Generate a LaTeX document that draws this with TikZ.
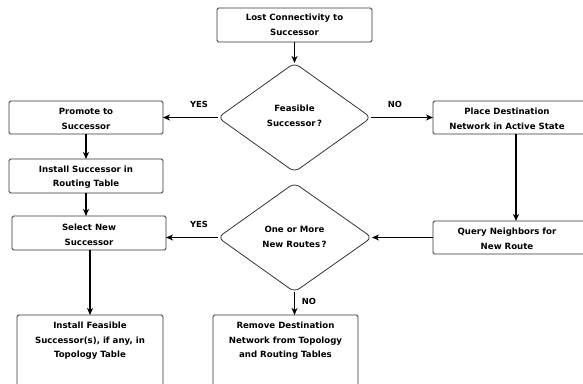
\documentclass[tikz,border=0pt]{standalone}
\usepackage{fontspec}
\setmainfont{DejaVu Sans}
\usetikzlibrary{arrows.meta}
\begin{document}
\begin{tikzpicture}[x=1pt,y=-1pt,
  box/.style={draw=black!80,line width=0.8pt,rounded corners=1.5pt},
  txt/.style={font=\bfseries\fontsize{8.6}{14.6}\selectfont,align=center,inner sep=0pt},
  flow/.style={line width=1.3pt,-{Stealth[length=7pt,width=6pt,inset=2pt]}},
  lbl/.style={font=\bfseries\fontsize{8.4}{9}\selectfont,inner sep=0pt}]
\useasboundingbox (0,0) rectangle (583,383);
\clip (0,0) rectangle (583,383);

% process boxes
\draw[box] (217,8) rectangle (372,42);
\node[txt] (lost) at (294.5,24.5) {Lost Connectivity to\\Successor};
\coordinate (lostB) at (294.5,42);

\draw[box] (9,101) rectangle (163,134);
\node[txt] (prom) at (86,119) {Promote to\\Successor};

\draw[box] (9,159) rectangle (163,193);
\node[txt] (inst) at (86,177) {Install Successor in\\Routing Table};

\draw[box] (12,216) rectangle (166,250);
\node[txt] (sel) at (89,234.5) {Select New\\Successor};

\draw[box] (433,101) rectangle (590,134);
\node[txt] (place) at (507,118.5) {Place Destination\\Network in Active State};

\draw[box] (433,221) rectangle (590,254);
\node[txt] (query) at (507,239) {Query Neighbors for\\New Route};

\draw[box] (17,315) rectangle (163,400);
\node[txt] (feas) at (90,341) {Install Feasible\\Successor(s), if any, in\\Topology Table};

\draw[box] (213,315) rectangle (358,400);
\node[txt] (rem) at (285.5,341) {Remove Destination\\Network from Topology\\and Routing Tables};

% decision diamonds
\draw[box,rounded corners=6pt] (294.5,63) -- (371,117.5) -- (294.5,172) -- (218,117.5) -- cycle;
\node[txt] (d1) at (294.5,115.5) {Feasible\\Successor\,?};
\coordinate (d1T) at (294.5,63);
\coordinate (d1L) at (218,117.5);
\coordinate (d1R) at (371,117.5);

\draw[box,rounded corners=6pt] (294.5,183) -- (372,237.5) -- (294.5,292) -- (218,237.5) -- cycle;
\node[txt] (d2) at (294.5,237) {One or More\\New Routes\,?};
\coordinate (d2L) at (218,237.5);
\coordinate (d2R) at (372,237.5);
\coordinate (d2B) at (294.5,292);

% connectors
\draw[flow] (lostB) -- (d1T);
\draw[flow] (d1L) -- (163,117.5);
\draw[flow] (d1R) -- (433,117.5);
\draw[flow] (86,134) -- (86,159);
\draw[flow] (86,193) -- (86,216);
\draw[flow] (516,134) -- (516,221);
\draw[flow] (433,237.5) -- (d2R);
\draw[flow] (d2L) -- (166,237.5);
\draw[flow] (90,250) -- (90,315);
\draw[flow] (d2B) -- (294.5,315);

% branch labels
\node[lbl] at (199,104) {YES};
\node[lbl] at (395,104) {NO};
\node[lbl] at (199,224) {YES};
\node[lbl] at (309,301) {NO};
\end{tikzpicture}
\end{document}
